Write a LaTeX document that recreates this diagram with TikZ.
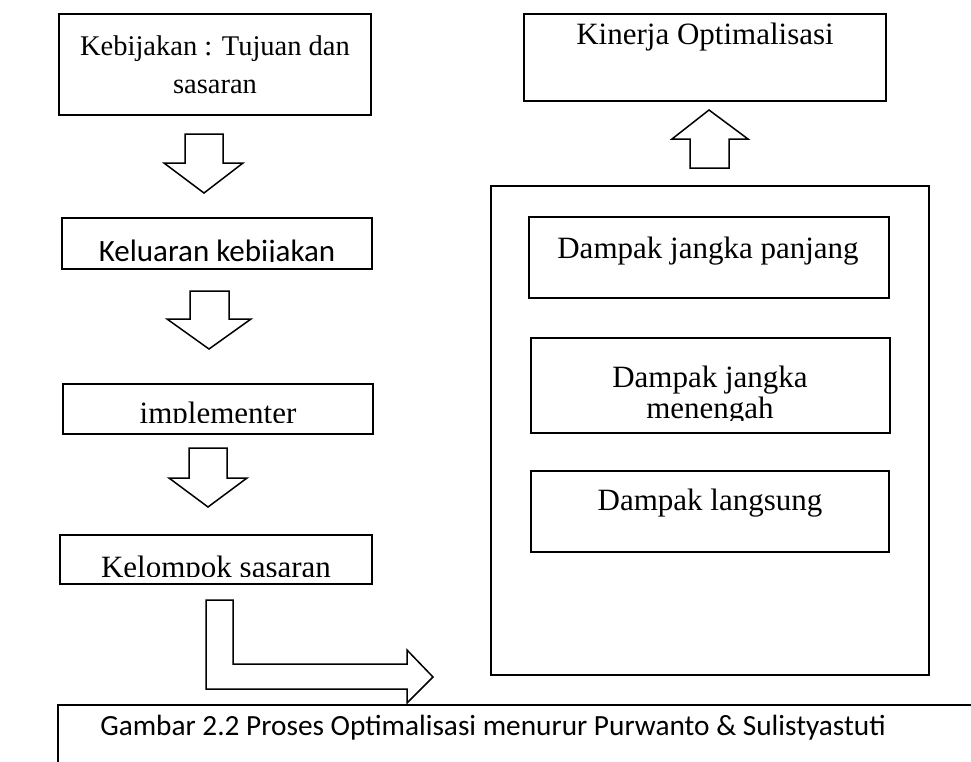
\documentclass[tikz,border=0pt]{standalone}
\usepackage{fontspec}
\setmainfont{Liberation Serif}
\newfontfamily\calfam{Carlito}
\newcommand\serifbig{\rmfamily\fontsize{31}{37}\selectfont}
\newcommand\serifmid{\rmfamily\fontsize{28.5}{34}\selectfont}
\newcommand\sansbig{\calfam\fontsize{31}{37}\selectfont}
\newcommand\sanscap{\calfam\fontsize{29.3}{35}\selectfont}
\begin{document}
\begin{tikzpicture}[x=1pt,y=-1pt,
  box/.style={draw=black,line width=1.8pt,inner sep=0pt,outer sep=0pt,rectangle},
  blockarrow/.style={draw=black,line width=1.5pt,fill=white,line join=miter},
  lbl/.style={inner sep=0pt,outer sep=0pt,anchor=base}]
\useasboundingbox (0,0) rectangle (971,761);
\clip (0,0) rectangle (971,761);
\fill[white] (0,0) rectangle (971,761);

% left column boxes
\node[box,minimum width=312pt,minimum height=101pt] (kebijakan) at (215,64.5) {};
\node[box,minimum width=310pt,minimum height=51pt] (keluaran) at (217,243.5) {};
\node[box,minimum width=310pt,minimum height=50pt] (implementer) at (218,409) {};
\node[box,minimum width=312pt,minimum height=49pt] (kelompok) at (216,559.5) {};

% right column boxes
\node[box,minimum width=362pt,minimum height=87pt] (kinerja) at (705,57.5) {};
\node[box,minimum width=438pt,minimum height=489pt] (dampak) at (710,430.5) {};
\node[box,minimum width=360pt,minimum height=81pt] (panjang) at (709,257.5) {};
\node[box,minimum width=359pt,minimum height=95pt] (menengah) at (710.5,385.5) {};
\node[box,minimum width=358pt,minimum height=81pt] (langsung) at (710,511.5) {};

% labels
\node[lbl,font=\serifmid] (t1a) at (215,55) {Kebijakan : Tujuan dan};
\node[lbl,font=\serifmid] (t1b) at (215,93) {sasaran};
\begin{scope}
  \clip (62,218) rectangle (372,261);
  \node[lbl,font=\sansbig] (t2) at (217,261) {Keluaran kebijakan};
\end{scope}
\begin{scope}
  \clip (63,384) rectangle (373,422);
  \node[lbl,font=\serifbig] (t3) at (218,423) {implementer};
\end{scope}
\begin{scope}
  \clip (60,535) rectangle (372,576);
  \node[lbl,font=\serifbig] (t4) at (216,577) {Kelompok sasaran};
\end{scope}
\node[lbl,font=\serifbig] (t5) at (705,44) {Kinerja Optimalisasi};
\node[lbl,font=\serifbig] (t6) at (708,258) {Dampak jangka panjang};
\node[lbl,font=\serifbig] (t7a) at (710,387) {Dampak jangka};
\begin{scope}
  \clip (531,338) rectangle (890,420);
  \node[lbl,font=\serifbig] (t7b) at (710,418) {menengah};
\end{scope}
\node[lbl,font=\serifbig] (t8) at (710,510) {Dampak langsung};

% block arrows between the stages
\draw[blockarrow] (185,134) -- (223,134) -- (223,163) -- (243,163) -- (204,193)
  -- (164,163) -- (185,163) -- cycle;
\draw[blockarrow] (190,291) -- (229,291) -- (229,319) -- (251,319) -- (209,349)
  -- (167,319) -- (190,319) -- cycle;
\draw[blockarrow] (189,448) -- (227,448) -- (227,478) -- (247,478) -- (208,507)
  -- (169,478) -- (189,478) -- cycle;
\draw[blockarrow] (690,168) -- (729,168) -- (729,139) -- (748,139) -- (709,110)
  -- (672,139) -- (690,139) -- cycle;
\draw[blockarrow] (206,600) -- (233,600) -- (233,664) -- (407,664) -- (407,650)
  -- (433,677) -- (407,703) -- (407,689) -- (206,689) -- cycle;

% caption frame
\draw[line width=1.8pt] (58,790) -- (58,705) -- (990,705);
\node[lbl,font=\sanscap] (caption) at (493,735) {Gambar 2.2 Proses Optimalisasi menurur Purwanto \& Sulistyastuti};
\end{tikzpicture}
\end{document}
